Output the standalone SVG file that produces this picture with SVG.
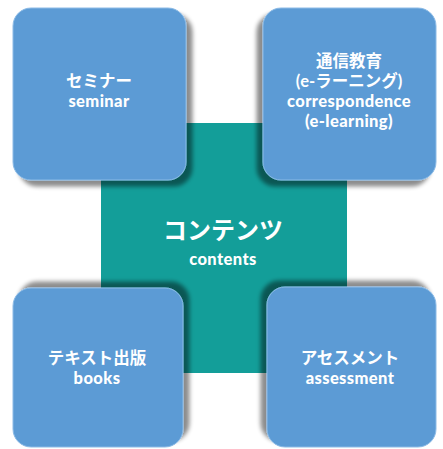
<svg xmlns="http://www.w3.org/2000/svg" width="443" height="449" viewBox="0 0 443 449">
  <defs>
    <filter id="shTL" x="-20%" y="-20%" width="140%" height="140%"><feDropShadow dx="6" dy="6" stdDeviation="2.2" flood-color="#000" flood-opacity="0.45"/></filter>
    <filter id="shTR" x="-20%" y="-20%" width="140%" height="140%"><feDropShadow dx="-6" dy="6" stdDeviation="2.2" flood-color="#000" flood-opacity="0.45"/></filter>
    <filter id="shBL" x="-20%" y="-20%" width="140%" height="140%"><feDropShadow dx="6" dy="-6" stdDeviation="2.2" flood-color="#000" flood-opacity="0.45"/></filter>
    <filter id="shBR" x="-20%" y="-20%" width="140%" height="140%"><feDropShadow dx="-6" dy="-6" stdDeviation="2.2" flood-color="#000" flood-opacity="0.45"/></filter>
  </defs>
  <style>
    .box { fill: #5b9bd5; stroke: #8dbbe6; stroke-width: 1; }
    .center { fill: #139e99; }
    text { font-family: "Lato", "Noto Sans CJK JP", sans-serif; font-weight: bold; fill: #ffffff; text-anchor: middle; }
    .t { font-size: 16.5px; }
    .en { font-weight: 900; letter-spacing: 0.4px; }
    .big { font-size: 24px; }
  </style>
  <rect width="443" height="449" fill="#ffffff"/>
  <g id="contents">
    <rect class="center" x="101" y="123" width="246" height="250"/>
    <text x="223" y="239"><tspan class="big" x="223">コンテンツ</tspan><tspan class="t en" x="223" dy="26">contents</tspan></text>
  </g>
  <g id="connectors"/>
  <g id="seminar">
    <rect class="box" x="13" y="8" width="173" height="172" rx="18" filter="url(#shTL)"/>
    <text class="t" x="99" y="87"><tspan x="99">セミナー</tspan><tspan class="en" x="99" dy="20">seminar</tspan></text>
  </g>
  <g id="correspondence">
    <rect class="box" x="263" y="8" width="173" height="172" rx="18" filter="url(#shTR)"/>
    <text class="t" x="349" y="67"><tspan x="349">通信教育</tspan><tspan x="349" dy="20">(e-ラーニング)</tspan><tspan class="en" x="349" dy="20">correspondence</tspan><tspan class="en" x="349" dy="20">(e-learning)</tspan></text>
  </g>
  <g id="books">
    <rect class="box" x="13" y="288" width="170" height="159" rx="18" filter="url(#shBL)"/>
    <text class="t" x="97" y="364"><tspan x="97">テキスト出版</tspan><tspan class="en" x="97" dy="20">books</tspan></text>
  </g>
  <g id="assessment">
    <rect class="box" x="267" y="287" width="169" height="160" rx="18" filter="url(#shBR)"/>
    <text class="t" x="350" y="364"><tspan x="350">アセスメント</tspan><tspan class="en" x="350" dy="20">assessment</tspan></text>
  </g>
</svg>
